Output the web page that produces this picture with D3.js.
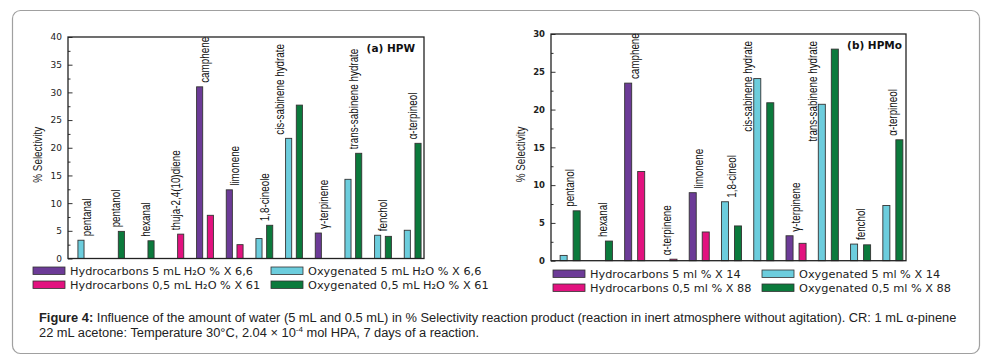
<!DOCTYPE html>
<html>
<head>
<meta charset="utf-8">
<script src="https://cdn.jsdelivr.net/npm/d3@7"></script>
<style>
  body { margin: 0; background: #fff; }
  svg { display: block; }
</style>
</head>
<body>
<div id="figure"></div>
<script>
// panel (a) HPW : % selectivity, 5 mL vs 0.5 mL water
const catsA = ["pentanal", "pentanol", "hexanal", "thuja-2,4(10)diene", "camphene", "limonene",
  "1,8-cineole", "cis-sabinene hydrate", "γ-terpinene", "trans-sabinene hydrate", "fenchol", "α-terpineol"];
const kindA = ["oxy", "oxy", "oxy", "hyd", "hyd", "hyd", "oxy", "oxy", "hyd", "oxy", "oxy", "oxy"];
const water5A = [3.3, 0, 0, 0, 31.0, 12.4, 3.6, 21.7, 4.6, 14.3, 4.2, 5.1];
const water05A = [0, 4.9, 3.2, 4.4, 7.8, 2.5, 6.0, 27.7, 0, 19.0, 4.0, 20.8];
const ticksA = [0, 5, 10, 15, 20, 25, 30, 35, 40];
const legendA = ["Hydrocarbons 5 mL H₂O % X 6,6", "Oxygenated 5 mL H₂O % X 6,6",
  "Hydrocarbons 0,5 mL H₂O % X 61", "Oxygenated 0,5 mL H₂O % X 61"];

// panel (b) HPMo
const catsB = ["pentanol", "hexanal", "camphene", "α-terpinene", "limonene", "1,8-cineol",
  "cis-sabinene hydrate", "γ-terpinene", "trans-sabinene hydrate", "fenchol", "α-terpineol"];
const kindB = ["oxy", "oxy", "hyd", "hyd", "hyd", "oxy", "oxy", "hyd", "oxy", "oxy", "oxy"];
const water5B = [0.7, 0, 23.5, 0, 9.0, 7.8, 24.1, 3.3, 20.7, 2.2, 7.3];
const water05B = [6.6, 2.6, 11.8, 0.2, 3.8, 4.6, 20.9, 2.3, 28.0, 2.1, 16.0];
const ticksB = [0, 5, 10, 15, 20, 25, 30];
const legendB = ["Hydrocarbons 5 ml % X 14", "Oxygenated 5 ml % X 14",
  "Hydrocarbons 0,5 ml % X 88", "Oxygenated 0,5 ml % X 88"];

const slots = ["5", "0.5"];
const COLORS = {
  "hyd-5": "#6c3b97",
  "hyd-0.5": "#e2127f",
  "oxy-5": "#6ccddd",
  "oxy-0.5": "#0b7a3c",
};
const LEGEND_KEYS = ["hyd-5", "oxy-5", "hyd-0.5", "oxy-0.5"];
const SANS = '"Liberation Sans", Arial, sans-serif';
const VERDANA = '"DejaVu Sans", Verdana, sans-serif';
const NARROW = 0.82; // no narrow face installed, so squeeze Liberation Sans

const svg = d3.select("#figure").append("svg").attr("width", 986).attr("height", 364);

svg.append("rect")
  .attr("x", 12.5).attr("y", 10.5)
  .attr("width", 967).attr("height", 343)
  .attr("rx", 8)
  .attr("fill", "#fff")
  .attr("stroke", "#a0a0a0")
  .attr("stroke-width", 1.2);

function drawPanel(cfg) {
  const g = svg.append("g");
  const y = d3.scaleLinear().domain(cfg.yDomain).range([cfg.bottom, cfg.top]);
  const x0 = d3.scaleBand()
    .domain(cfg.cats)
    .range([cfg.left + cfg.shift, cfg.right + cfg.shift])
    .paddingInner(0).paddingOuter(0);
  const x1 = d3.scaleBand()
    .domain(slots)
    .range([0, x0.bandwidth()])
    .paddingInner(cfg.slotPad).paddingOuter(cfg.slotOuter);

  const rows = cfg.cats.map((c, i) => ({
    cat: c,
    kind: cfg.kinds[i],
    vals: [cfg.five[i], cfg.half[i]],
  }));

  // minor ticks
  const minor = d3.range(cfg.yDomain[0] + 2.5, cfg.yDomain[1], 5);
  g.append("g")
    .attr("transform", `translate(${cfg.left},0)`)
    .call(d3.axisLeft(y).tickValues(minor).tickSize(-2.5).tickFormat(""))
    .call((a) => a.select(".domain").remove())
    .selectAll("line").attr("stroke", "#333");

  // major ticks + labels
  const ax = g.append("g")
    .attr("transform", `translate(${cfg.left},0)`)
    .call(d3.axisLeft(y).tickValues(cfg.ticks).tickSize(-4.5).tickPadding(6));
  ax.select(".domain").remove();
  ax.selectAll("line").attr("stroke", "#333");
  ax.selectAll("text")
    .attr("fill", "#222")
    .style("font-family", VERDANA)
    .style("font-size", cfg.tickSize)
    .style("font-weight", cfg.tickWeight);

  // bars
  const groups = g.append("g")
    .selectAll("g")
    .data(rows)
    .join("g")
    .attr("transform", (d) => `translate(${x0(d.cat)},0)`);

  groups.selectAll("rect")
    .data((d) => slots.map((s, j) => ({ slot: s, kind: d.kind, v: d.vals[j] })).filter((b) => b.v > 0))
    .join("rect")
    .attr("x", (b) => x1(b.slot))
    .attr("width", x1.bandwidth())
    .attr("y", (b) => y(b.v))
    .attr("height", (b) => y(0) - y(b.v))
    .attr("fill", (b) => COLORS[`${b.kind}-${b.slot}`])
    .attr("stroke", "#333")
    .attr("stroke-width", 0.9);

  // compound labels, rotated
  const bw = x0.bandwidth();
  g.append("g")
    .selectAll("text")
    .data(rows)
    .join("text")
    .text((d) => d.cat)
    .attr("dy", "0.35em")
    .style("font-family", SANS)
    .style("font-size", "12px")
    .attr("fill", "#111")
    .each(function (d) {
      const t = d3.select(this);
      const len = this.getComputedTextLength() * NARROW;
      const yb = y(d3.max(d.vals)) - 4;
      if (yb - len < cfg.top - 3) {
        // too long to sit above: stand it beside the 5 mL bar, hanging from the top
        const xs = x0(d.cat) + x1("5") - 5.5;
        t.attr("text-anchor", "end")
          .attr("transform", `translate(${xs},${cfg.top + 7}) rotate(-90) scale(${NARROW},1)`);
      } else {
        t.attr("transform", `translate(${x0(d.cat) + bw / 2},${yb}) rotate(-90) scale(${NARROW},1)`);
      }
    });

  // frame
  g.append("rect")
    .attr("x", cfg.left).attr("y", cfg.top)
    .attr("width", cfg.right - cfg.left).attr("height", cfg.bottom - cfg.top)
    .attr("fill", "none")
    .attr("stroke", "#222")
    .attr("stroke-width", 1.3);

  // y title
  g.append("text")
    .attr("transform", `translate(${cfg.left - 30},${(cfg.top + cfg.bottom) / 2 + 7}) rotate(-90) scale(${NARROW},1)`)
    .attr("text-anchor", "middle")
    .attr("dy", "0.35em")
    .style("font-family", SANS)
    .style("font-size", "12px")
    .attr("fill", "#222")
    .text("% Selectivity");

  // panel title
  g.append("text")
    .attr("x", cfg.right - cfg.titleInset)
    .attr("y", cfg.top + 15)
    .attr("text-anchor", "end")
    .style("font-family", VERDANA)
    .style("font-size", "10.5px")
    .style("font-weight", "bold")
    .attr("fill", "#111")
    .text(cfg.title);

  // legend, 2 x 2
  const leg = g.append("g");
  cfg.legend.forEach((label, i) => {
    const col = i % 2, row = Math.floor(i / 2);
    const lx = cfg.legendX[col], ly = cfg.legendY + row * 14;
    leg.append("rect")
      .attr("x", lx).attr("y", ly)
      .attr("width", 32).attr("height", 7.5)
      .attr("fill", COLORS[LEGEND_KEYS[i]])
      .attr("stroke", "#333")
      .attr("stroke-width", 0.8);
    leg.append("text")
      .attr("x", lx + 37).attr("y", ly + 8)
      .style("font-family", VERDANA)
      .style("font-size", "11.3px")
      .attr("fill", "#222")
      .text(label);
  });
}

drawPanel({
  cats: catsA, kinds: kindA, five: water5A, half: water05A, ticks: ticksA,
  yDomain: [0, 40], left: 68, right: 424, top: 37, bottom: 258.5, shift: 3.5,
  slotPad: 0.43, slotOuter: 0.6, tickSize: "9px", tickWeight: "normal",
  title: "(a) HPW", titleInset: 9, legend: legendA, legendX: [33, 271], legendY: 267,
});

drawPanel({
  cats: catsB, kinds: kindB, five: water5B, half: water05B, ticks: ticksB,
  yDomain: [0, 30], left: 551, right: 906, top: 34, bottom: 260.7, shift: 3,
  slotPad: 0.46, slotOuter: 0.47, tickSize: "8.5px", tickWeight: "bold",
  title: "(b) HPMo", titleInset: 4, legend: legendB, legendX: [553, 762], legendY: 270,
});

// caption
const cap = svg.append("g")
  .style("font-family", SANS)
  .style("font-size", "12.85px")
  .attr("fill", "#222");
const l1 = cap.append("text").attr("x", 39).attr("y", 322);
l1.append("tspan").style("font-weight", "bold").text("Figure 4:");
l1.append("tspan").text(" Influence of the amount of water (5 mL and 0.5 mL) in % Selectivity reaction product (reaction in inert atmosphere without agitation). CR: 1 mL α-pinene");
const l2 = cap.append("text").attr("x", 39).attr("y", 337);
l2.append("tspan").text("22 mL acetone: Temperature 30°C, 2.04 × 10");
l2.append("tspan").attr("dy", -5).style("font-size", "8px").text("-4");
l2.append("tspan").attr("dy", 5).text(" mol HPA, 7 days of a reaction.");
</script>
</body>
</html>
